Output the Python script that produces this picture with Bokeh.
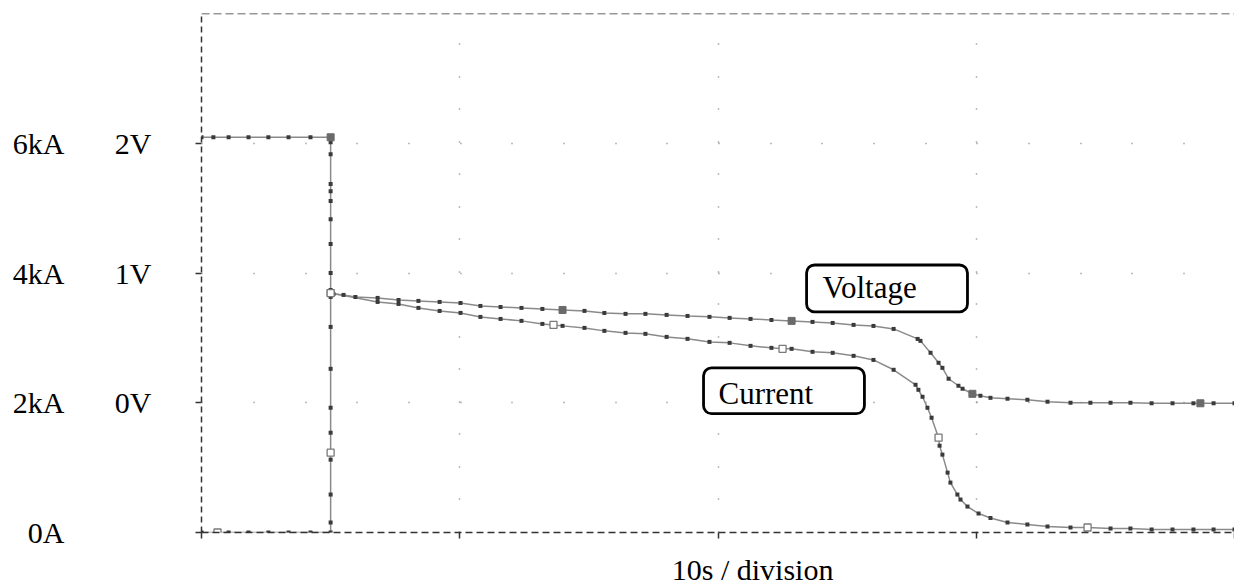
from bokeh.plotting import figure
from bokeh.models import Range1d, LinearAxis, FixedTicker, Span, BoxAnnotation, Label, Grid
from bokeh.embed import file_html
from bokeh.resources import INLINE

# ---------------- data ----------------
# time in seconds (10 s / division), voltage in V, current in kA
t_voltage = [0, 0.46, 1.05, 1.82, 2.59, 3.37, 4.22,
             5.0, 5.0, 5.0, 5.0, 5.0, 5.0, 5.0, 5.0, 5.0, 5.0, 5.0,
             5.11, 5.50, 5.96, 6.82, 7.63, 8.40, 9.22, 10.03, 10.80, 11.58,
             12.39, 13.20, 13.98, 14.83, 15.60, 16.42, 17.19, 18.01, 18.82,
             19.67, 20.45, 21.26, 22.07, 22.85, 23.66, 24.44, 25.25, 26.02,
             26.80, 27.73, 27.84, 28.23, 28.54, 28.69, 28.93, 29.31, 29.47,
             29.85, 30.16, 30.55, 31.21, 31.98, 32.76, 33.65, 34.42, 35.20,
             35.97, 36.79, 37.60, 38.41, 38.68, 39.19, 40.0]
voltage = [2.046, 2.046, 2.046, 2.046, 2.046, 2.046, 2.046,
           2.046, 2.008, 1.915, 1.685, 1.631, 1.554, 1.415, 1.223, 1.0, 0.869, 0.846,
           0.838, 0.831, 0.815, 0.808, 0.792, 0.785, 0.777, 0.769, 0.746, 0.738,
           0.731, 0.723, 0.715, 0.708, 0.692, 0.685, 0.685, 0.677, 0.669,
           0.662, 0.654, 0.646, 0.638, 0.631, 0.623, 0.615, 0.600, 0.592,
           0.569, 0.492, 0.477, 0.385, 0.308, 0.269, 0.185, 0.131, 0.108,
           0.069, 0.054, 0.038, 0.031, 0.023, 0.008, 0.0, 0.0, 0.0,
           0.0, -0.004, -0.004, -0.004, -0.004, -0.004, -0.004]

t_current = [0, 0.62, 1.05, 1.82, 2.59, 3.37, 4.22,
             5.0, 5.0, 5.0, 5.0, 5.0, 5.0, 5.0, 5.0, 5.0, 5.0, 5.0,
             6.82, 7.63, 8.40, 9.22, 10.03, 10.80, 11.58, 12.39, 13.20, 13.63,
             13.98, 14.83, 15.60, 16.42, 17.19, 18.01, 18.82, 19.67, 20.45,
             21.26, 22.07, 22.50, 22.85, 23.66, 24.44, 25.25, 26.02, 26.80,
             27.65, 27.76, 27.92, 28.11, 28.27, 28.54, 28.58, 28.69, 28.89,
             29.00, 29.27, 29.39, 29.66, 30.09, 30.55, 31.21, 31.98, 32.76,
             33.65, 34.31, 35.20, 35.97, 36.79, 37.60, 38.41, 39.19, 40.0]
current = [0, 0, 0, 0, 0, 0, 0,
           0, 0.154, 0.585, 1.123, 1.23, 1.538, 1.923, 2.523, 3.169, 3.631, 3.692,
           3.554, 3.523, 3.462, 3.415, 3.385, 3.323, 3.292, 3.262, 3.215, 3.200,
           3.185, 3.154, 3.108, 3.077, 3.062, 3.015, 2.985, 2.938, 2.923,
           2.877, 2.846, 2.831, 2.831, 2.785, 2.769, 2.723, 2.660, 2.508,
           2.277, 2.200, 2.092, 1.923, 1.769, 1.462, 1.338, 1.200, 0.923,
           0.769, 0.585, 0.508, 0.400, 0.292, 0.223, 0.154, 0.123, 0.092,
           0.077, 0.077, 0.062, 0.062, 0.046, 0.046, 0.046, 0.046, 0.046]

# trace identification markers
t_voltage_marks = [5.0, 5.0, 13.98, 22.85, 29.85, 38.68]
voltage_marks = [2.046, 0.846, 0.715, 0.631, 0.069, -0.004]
t_current_marks = [0.62, 5.0, 5.0, 13.63, 22.50, 28.54, 34.31]
current_marks = [0, 1.23, 3.69, 3.200, 2.831, 1.462, 0.077]

current_ticks = [0, 2, 4, 6]
current_tick_labels = ["0A", "2kA", "4kA", "6kA"]
voltage_ticks = [-1, 0, 1, 2]
voltage_tick_labels = ["", "0V", "1V", "2V"]
time_ticks = [0, 10, 20, 30, 40]
x_title = "10s / division"

# ---------------- layout / style ----------------
FONT = "Liberation Serif"
FS = "30px"
AX = "#333333"
X_TITLE_POS = 21.34   # horizontal centre of the x title, in seconds

p = figure(width=1234, height=588, x_range=Range1d(0, 40), y_range=Range1d(0, 8),
           x_axis_type=None, y_axis_type=None,
           output_backend="svg", toolbar_location=None,
           min_border_left=201, min_border_right=0, min_border_top=13, min_border_bottom=55)
p.extra_y_ranges = {"volt": Range1d(-1, 3)}
p.outline_line_color = None
p.background_fill_color = "white"
p.border_fill_color = "white"

# dotted grids
p.add_layout(Grid(dimension=1, ticker=FixedTicker(ticks=[2, 4, 6]),
                  grid_line_color="#7a7a7a", grid_line_width=1.5,
                  grid_line_dash="1 51 1 51 1 50"))
p.add_layout(Grid(dimension=0, ticker=FixedTicker(ticks=[10, 20, 30]),
                  grid_line_color="#7a7a7a", grid_line_width=1.5,
                  grid_line_dash="1 32 1 31"))

# inner left axis: voltage (dashed frame line, outward ticks)
vax = LinearAxis(y_range_name="volt", ticker=FixedTicker(ticks=voltage_ticks),
                 major_label_overrides=dict(zip(voltage_ticks, voltage_tick_labels)),
                 axis_line_color=AX, axis_line_width=1.5, axis_line_dash="6 4",
                 major_tick_line_color=AX, major_tick_line_width=1.5,
                 major_tick_out=6, major_tick_in=0, minor_tick_line_color=None,
                 major_label_standoff=44,
                 major_label_text_font=FONT, major_label_text_font_size=FS,
                 major_label_text_color="black")
p.add_layout(vax, "left")
# outer left axis: current labels only
iax = LinearAxis(ticker=FixedTicker(ticks=current_ticks),
                 major_label_overrides=dict(zip(current_ticks, current_tick_labels)),
                 axis_line_color=None, major_tick_line_color=None,
                 minor_tick_line_color=None, major_tick_out=0, major_tick_in=0,
                 major_label_standoff=47,
                 major_label_text_font=FONT, major_label_text_font_size=FS,
                 major_label_text_color="black")
p.add_layout(iax, "left")

# bottom axis: dashed line with ticks
xax = LinearAxis(ticker=FixedTicker(ticks=time_ticks),
                 major_label_overrides={t: "" for t in time_ticks},
                 axis_line_color=AX, axis_line_width=1.5, axis_line_dash="7 4",
                 major_tick_line_color=AX, major_tick_line_width=1.5,
                 major_tick_out=6, major_tick_in=0, minor_tick_line_color=None,
                 major_label_standoff=0, major_label_text_font_size="1px")
p.add_layout(xax, "below")
# x title as a label-only axis
tax = LinearAxis(ticker=FixedTicker(ticks=[X_TITLE_POS]),
                 major_label_overrides={X_TITLE_POS: x_title},
                 axis_line_color=None, major_tick_line_color=None,
                 minor_tick_line_color=None, major_tick_out=0, major_tick_in=0,
                 major_label_standoff=14,
                 major_label_text_font=FONT, major_label_text_font_size=FS,
                 major_label_text_color="black")
p.add_layout(tax, "below")

p.add_layout(Span(location=8, dimension="width", line_color=AX, line_width=1.5,
                  line_dash="8 4"))

# traces
LINE = "#8a8a8a"
DOT = "#3a3a3a"
p.line(t_voltage, voltage, y_range_name="volt", line_color=LINE, line_width=1.5)
p.line(t_current, current, line_color=LINE, line_width=1.5)
p.scatter(t_voltage, voltage, y_range_name="volt", marker="square", size=4,
          fill_color=DOT, line_color=None)
p.scatter(t_current, current, marker="square", size=4, fill_color=DOT, line_color=None)
p.scatter(t_voltage_marks, voltage_marks, y_range_name="volt", marker="square", size=7,
          fill_color="#6a6a6a", line_color="#6a6a6a")
p.scatter(t_current_marks, current_marks, marker="square", size=7,
          fill_color="white", line_color="#7a7a7a", line_width=1.3)

# callout boxes
p.add_layout(BoxAnnotation(left=23.43, right=29.66, bottom=3.40, top=4.123,
                           fill_color="white", fill_alpha=1.0, line_color="black",
                           line_width=2.8, line_alpha=1.0, border_radius=8))
p.add_layout(BoxAnnotation(left=19.44, right=25.67, bottom=1.831, top=2.538,
                           fill_color="white", fill_alpha=1.0, line_color="black",
                           line_width=2.8, line_alpha=1.0, border_radius=8))
p.add_layout(Label(x=24.05, y=3.631, y_offset=9, text="Voltage", text_align="left",
                   text_baseline="alphabetic", text_font=FONT, text_font_size="31px",
                   text_color="black"))
p.add_layout(Label(x=20.02, y=2.0, y_offset=9, text="Current", text_align="left",
                   text_baseline="alphabetic", text_font=FONT, text_font_size="31px",
                   text_color="black"))

open("out.html", "w").write(file_html(p, INLINE))
